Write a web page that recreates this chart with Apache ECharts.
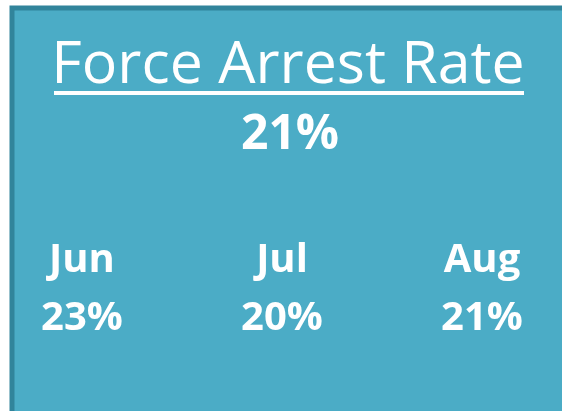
<!DOCTYPE html>
<html>
<head>
<meta charset="utf-8">
<script src="https://cdn.jsdelivr.net/npm/echarts@6/dist/echarts.min.js"></script>
<style>
html, body { margin: 0; padding: 0; background: #fff; }
#kpiChart { width: 562px; height: 411px; }
</style>
</head>
<body>
<div id="kpiChart"></div>
<script>
var titleText = 'Force Arrest Rate';
var overallRate = '21%';
var months = ['Jun', 'Jul', 'Aug'];
var monthRates = ['23%', '20%', '21%'];

var kpiChart = echarts.init(document.getElementById('kpiChart'));

var kpiOption = {
    backgroundColor: '#ffffff',
    graphic: [
        {
            type: 'rect',
            z: 0,
            shape: { x: 12, y: 8, width: 560, height: 410 },
            style: { fill: '#4BACC6', stroke: '#31849B', lineWidth: 5 }
        },
        {
            type: 'rect',
            z: 1,
            shape: { x: 54, y: 91, width: 470, height: 4 },
            style: { fill: '#ffffff' }
        }
    ],
    title: [
        {
            text: titleText,
            left: 283,
            textAlign: 'center',
            top: 32,
            textStyle: {
                color: '#ffffff',
                fontFamily: 'Open Sans',
                fontWeight: 'normal',
                fontSize: 59
            }
        },
        {
            text: overallRate,
            left: 285,
            textAlign: 'center',
            top: 106,
            textStyle: {
                color: '#ffffff',
                fontFamily: 'Open Sans',
                fontWeight: 'bold',
                fontSize: 48
            }
        }
    ],
    grid: { left: -18, width: 600, top: 200, height: 200, outerBoundsMode: 'none', containLabel: false },
    xAxis: {
        type: 'category',
        data: months,
        show: false
    },
    yAxis: {
        type: 'value',
        min: 0,
        max: 1,
        show: false
    },
    series: [
        {
            type: 'scatter',
            symbolSize: 0,
            silent: true,
            itemStyle: { opacity: 1 },
            data: months.map(function (m) { return [m, 0.55]; }),
            label: {
                show: true,
                position: 'inside',
                color: '#ffffff',
                fontFamily: 'Open Sans',
                fontWeight: 'bold',
                fontSize: 40,
                lineHeight: 58,
                formatter: function (p) {
                    return months[p.dataIndex] + '\n' + monthRates[p.dataIndex];
                }
            }
        }
    ]
};
kpiChart.setOption(kpiOption);
</script>
</body>
</html>
